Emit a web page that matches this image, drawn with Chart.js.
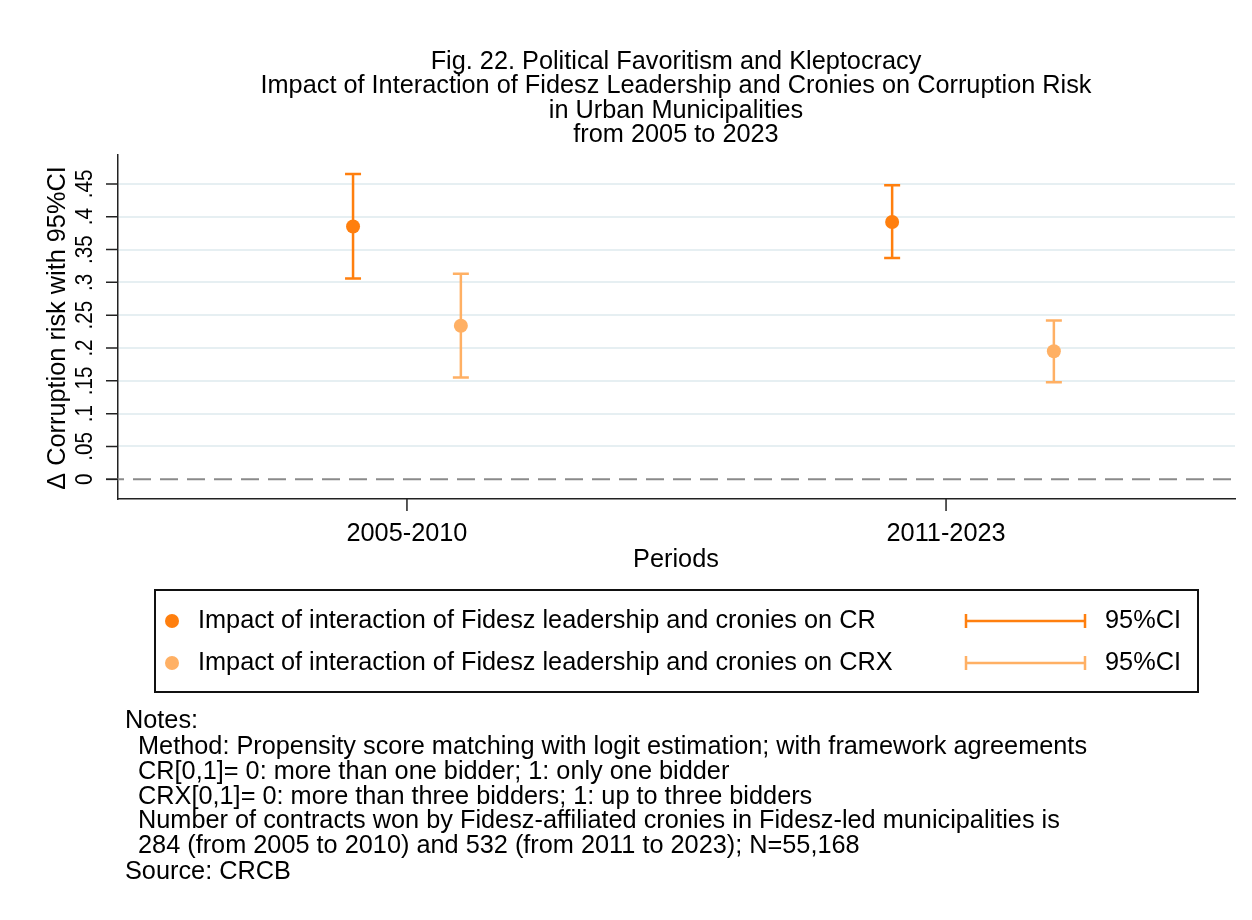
<!DOCTYPE html>
<html>
<head>
<meta charset="utf-8">
<script src="https://cdn.jsdelivr.net/npm/chart.js@4.4.1/dist/chart.umd.min.js"></script>
<style>
    html, body { margin: 0; padding: 0; background: #fff; }
    #wrap { width: 1252px; height: 920px; }
</style>
</head>
<body>
<div id="wrap"><canvas id="chart" width="1252" height="920"></canvas></div>
<script>
// periods on the x axis
const periods = ['2005-2010', '2011-2023'];
const periodPos = [1, 2];

// CR series: estimate and 95% CI
const crPos = [0.9, 1.9];
const crEst = [0.385, 0.392];
const crLow = [0.306, 0.337];
const crHigh = [0.465, 0.448];

// CRX series: estimate and 95% CI
const crxPos = [1.1, 2.2];
const crxEst = [0.234, 0.195];
const crxLow = [0.155, 0.148];
const crxHigh = [0.313, 0.242];

const yTicks = [0, 0.05, 0.1, 0.15, 0.2, 0.25, 0.3, 0.35, 0.4, 0.45];
const yTickLabels = ['0', '.05', '.1', '.15', '.2', '.25', '.3', '.35', '.4', '.45'];

const titleLines = [
    'Fig. 22. Political Favoritism and Kleptocracy',
    'Impact of Interaction of Fidesz Leadership and Cronies on Corruption Risk',
    'in Urban Municipalities',
    'from 2005 to 2023'
];
const legendLabels = [
    'Impact of interaction of Fidesz leadership and cronies on CR',
    'Impact of interaction of Fidesz leadership and cronies on CRX'
];
const notesLines = [
    'Notes:',
    '  Method: Propensity score matching with logit estimation; with framework agreements',
    '  CR[0,1]= 0: more than one bidder; 1: only one bidder',
    '  CRX[0,1]= 0: more than three bidders; 1: up to three bidders',
    '  Number of contracts won by Fidesz-affiliated cronies in Fidesz-led municipalities is',
    '  284 (from 2005 to 2010) and 532 (from 2011 to 2023); N=55,168',
    'Source: CRCB'
];

const crColor = '#ff7f0e';
const crxColor = '#ffb064';
const textColor = '#000';
const font = '"Liberation Sans", Arial, sans-serif';

document.addEventListener('DOMContentLoaded', () => {
    const ctx = document.getElementById('chart').getContext('2d');

    // error bars + zero line, under the points
    const errorBars = {
        id: 'errorBars',
        beforeDatasetsDraw(chart) {
            const c = chart.ctx;
            const x = chart.scales.x, y = chart.scales.y;
            const area = chart.chartArea;
            c.save();
            c.strokeStyle = '#8a8a8a';
            c.lineWidth = 2;
            c.setLineDash([18, 9]);
            c.beginPath();
            c.moveTo(area.left - 12, y.getPixelForValue(0));
            c.lineTo(area.right, y.getPixelForValue(0));
            c.stroke();
            c.setLineDash([]);

            const series = [
                [crPos, crLow, crHigh, crColor],
                [crxPos, crxLow, crxHigh, crxColor]
            ];
            c.lineWidth = 2.5;
            series.forEach(([pos, lo, hi, col]) => {
                c.strokeStyle = col;
                pos.forEach((p, i) => {
                    const px = x.getPixelForValue(p);
                    const y1 = y.getPixelForValue(lo[i]);
                    const y2 = y.getPixelForValue(hi[i]);
                    c.beginPath();
                    c.moveTo(px, y1); c.lineTo(px, y2);
                    c.moveTo(px - 8, y1); c.lineTo(px + 8, y1);
                    c.moveTo(px - 8, y2); c.lineTo(px + 8, y2);
                    c.stroke();
                });
            });
            c.restore();
        }
    };

    // texts, tick marks, legend and notes
    const decorations = {
        id: 'decorations',
        afterDraw(chart) {
            const c = chart.ctx;
            const x = chart.scales.x, y = chart.scales.y;
            const area = chart.chartArea;
            c.save();
            c.fillStyle = textColor;
            c.strokeStyle = '#222';
            c.lineWidth = 1.5;

            // title
            c.font = '25.3px ' + font;
            c.textAlign = 'center';
            c.textBaseline = 'middle';
            const titleY = [62, 86, 111, 135];
            titleLines.forEach((t, i) => c.fillText(t, 676, titleY[i]));

            // y ticks
            c.beginPath();
            yTicks.forEach(v => {
                const py = y.getPixelForValue(v);
                c.moveTo(area.left - 12, py);
                c.lineTo(area.left, py);
            });
            // x ticks
            periodPos.forEach(v => {
                const px = x.getPixelForValue(v);
                c.moveTo(px, area.bottom);
                c.lineTo(px, area.bottom + 12);
            });
            c.stroke();

            // y tick labels (rotated)
            c.font = '24px ' + font;
            yTicks.forEach((v, i) => {
                const py = y.getPixelForValue(v);
                c.save();
                c.translate(85, py);
                c.rotate(-Math.PI / 2);
                c.scale(0.86, 1);
                c.fillText(yTickLabels[i], 0, 0);
                c.restore();
            });

            // y title
            c.font = '25.3px ' + font;
            c.save();
            c.translate(58, 328);
            c.rotate(-Math.PI / 2);
            c.fillText('\u0394 Corruption risk with 95%CI', 0, 0);
            c.restore();

            // x tick labels and title
            periods.forEach((p, i) => {
                c.fillText(p, x.getPixelForValue(periodPos[i]), 534);
            });
            c.fillText('Periods', 676, 560);

            // legend box
            c.lineWidth = 2;
            c.strokeStyle = '#111';
            c.strokeRect(155, 590, 1043, 102);
            const rows = [621, 663];
            const cols = [crColor, crxColor];
            c.textAlign = 'left';
            rows.forEach((ry, i) => {
                c.fillStyle = cols[i];
                c.beginPath();
                c.arc(172, ry, 7, 0, Math.PI * 2);
                c.fill();
                c.strokeStyle = cols[i];
                c.lineWidth = 2.5;
                c.beginPath();
                c.moveTo(966, ry); c.lineTo(1085, ry);
                c.moveTo(966, ry - 7); c.lineTo(966, ry + 7);
                c.moveTo(1085, ry - 7); c.lineTo(1085, ry + 7);
                c.stroke();
                c.fillStyle = textColor;
                c.fillText(legendLabels[i], 198, ry);
                c.fillText('95%CI', 1105, ry);
            });

            // notes
            const noteY = [721, 747, 772, 797, 821, 846, 872];
            notesLines.forEach((t, i) => {
                const indent = t.startsWith('  ');
                c.fillText(t.trim(), indent ? 138 : 125, noteY[i]);
            });
            c.restore();
        }
    };

    new Chart(ctx, {
        type: 'scatter',
        data: {
            datasets: [{
                label: legendLabels[0],
                data: crPos.map((p, i) => ({ x: p, y: crEst[i] })),
                backgroundColor: crColor,
                borderWidth: 0,
                pointRadius: 7
            }, {
                label: legendLabels[1],
                data: crxPos.map((p, i) => ({ x: p, y: crxEst[i] })),
                backgroundColor: crxColor,
                borderWidth: 0,
                pointRadius: 7
            }]
        },
        options: {
            responsive: false,
            animation: false,
            events: [],
            layout: { padding: { left: 0, right: 17, top: 155, bottom: 421 } },
            plugins: { legend: { display: false }, tooltip: { enabled: false } },
            scales: {
                x: {
                    type: 'linear',
                    min: 0.464,
                    max: 2.536,
                    grid: { display: false, drawTicks: false },
                    ticks: { display: false },
                    border: { display: true, color: '#222', width: 1.5 },
                    afterFit: s => { s.height = 0; }
                },
                y: {
                    min: -0.03,
                    max: 0.494,
                    afterBuildTicks: s => { s.ticks = yTicks.map(v => ({ value: v })); },
                    grid: {
                        drawTicks: false,
                        lineWidth: 2,
                        color: c => (c.tick && c.tick.value === 0) ? 'rgba(0,0,0,0)' : '#e6eff2'
                    },
                    ticks: { display: false },
                    border: { display: true, color: '#222', width: 1.5 },
                    afterFit: s => { s.width = 118; }
                }
            }
        },
        plugins: [errorBars, decorations]
    });
});
</script>
</body>
</html>
